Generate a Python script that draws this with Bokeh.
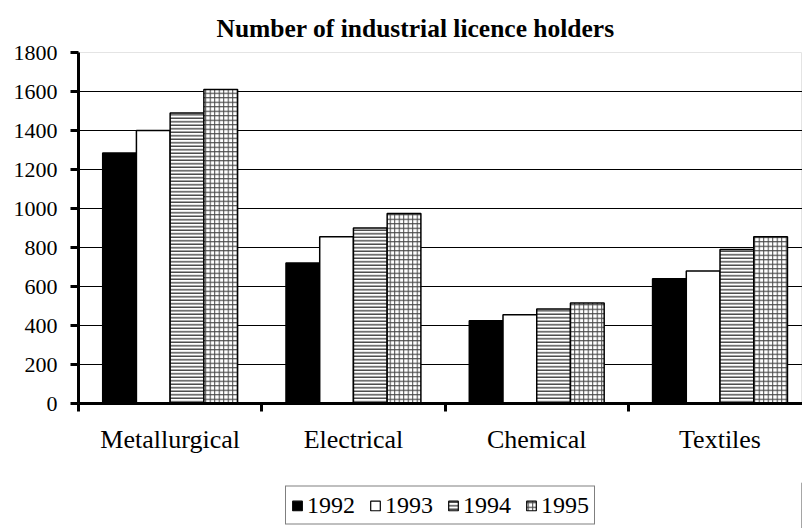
import numpy as np
from bokeh.plotting import figure
from bokeh.layouts import column
from bokeh.models import Range1d, FixedTicker, Legend, LegendItem, ColumnDataSource
from bokeh.embed import file_html
from bokeh.resources import INLINE

categories = ["Metallurgical", "Electrical", "Chemical", "Textiles"]
years = ["1992", "1993", "1994", "1995"]
v1992 = [1285, 720, 425, 640]
v1993 = [1400, 855, 455, 680]
v1994 = [1490, 900, 485, 790]
v1995 = [1610, 975, 515, 855]
y_ticks = [0, 200, 400, 600, 800, 1000, 1200, 1400, 1600, 1800]

series = [v1992, v1993, v1994, v1995]
styles = [
    dict(fill_color="black"),
    dict(fill_color="white"),
    dict(fill_color="white", hatch_pattern="horizontal_line", hatch_scale=3.5,
         hatch_weight=1.2, hatch_color="#222222"),
    dict(fill_color="white", hatch_pattern="cross", hatch_scale=4.5,
         hatch_weight=1.0, hatch_color="#444444"),
]

FONT = "Liberation Serif"
p = figure(width=802, height=472, output_backend="svg", toolbar_location=None,
           x_range=Range1d(0, 3.95), y_range=Range1d(0, 1800),
           min_border_left=75, min_border_right=0, min_border_top=52, min_border_bottom=69,
           title="Number of industrial licence holders")
p.title.text_font = FONT
p.title.text_font_style = "bold"
p.title.text_font_size = "25.5px"
p.title.text_color = "black"
p.title.align = "left"
p.title.offset = 138
p.title.standoff = 20
p.outline_line_color = "#e4e4e4"
p.background_fill_color = "white"
p.border_fill_color = "white"

bar_w = 0.184
idx = np.arange(len(categories))
for j, (vals, st) in enumerate(zip(series, styles)):
    src = ColumnDataSource(dict(x=idx + 0.5 + (j - 1.5) * bar_w, top=vals))
    p.vbar(x="x", top="top", bottom=0, width=bar_w, source=src,
           line_color="black", line_width=1.5, **st)

# y axis
ya = p.yaxis[0]
ya.ticker = FixedTicker(ticks=y_ticks)
ya.axis_line_width = 3
ya.major_tick_line_width = 3
ya.major_tick_out = 8
ya.major_tick_in = 0
ya.minor_tick_line_color = None
ya.major_label_text_font = FONT
ya.major_label_text_font_size = "22px"
ya.major_label_text_color = "black"
ya.major_label_standoff = 13

# x axis
xa = p.xaxis[0]
xa.ticker = FixedTicker(ticks=list(idx + 0.5), minor_ticks=list(range(len(categories) + 1)))
xa.major_label_overrides = {float(i + 0.5): c for i, c in enumerate(categories)}
xa.axis_line_width = 3
xa.major_tick_line_color = None
xa.major_tick_out = 0
xa.major_tick_in = 0
xa.minor_tick_out = 8
xa.minor_tick_in = 0
xa.minor_tick_line_width = 3
xa.major_label_text_font = FONT
xa.major_label_text_font_size = "26px"
xa.major_label_text_color = "black"
xa.major_label_standoff = 13

p.xgrid.visible = False
p.ygrid.ticker = FixedTicker(ticks=y_ticks[1:-1])
p.ygrid.grid_line_color = "black"
p.ygrid.grid_line_width = 1

# legend strip below the chart, centred under the plot area
lg = figure(width=802, height=56, output_backend="svg", toolbar_location=None,
            x_range=Range1d(0, 1), y_range=Range1d(0, 1),
            min_border_left=78, min_border_right=0, min_border_top=10, min_border_bottom=0)
lg.axis.visible = False
lg.grid.visible = False
lg.outline_line_color = None
items = []
for y, st in zip(years, styles):
    r = lg.vbar(x=[5], top=[1], width=0.1, line_color="black", line_width=1.2, **st)
    items.append(LegendItem(label=y, renderers=[r]))
legend = Legend(items=items, orientation="horizontal", location="center")
legend.label_text_font = FONT
legend.label_text_font_size = "24px"
legend.label_text_color = "black"
legend.glyph_width = 12
legend.glyph_height = 12
legend.label_standoff = 4
legend.spacing = 14
legend.padding = 5
legend.margin = 0
legend.border_line_color = "black"
legend.border_line_width = 1
legend.background_fill_alpha = 1
lg.add_layout(legend, "center")

layout = column(p, lg, spacing=0)
open("out.html", "w").write(file_html(layout, INLINE))
